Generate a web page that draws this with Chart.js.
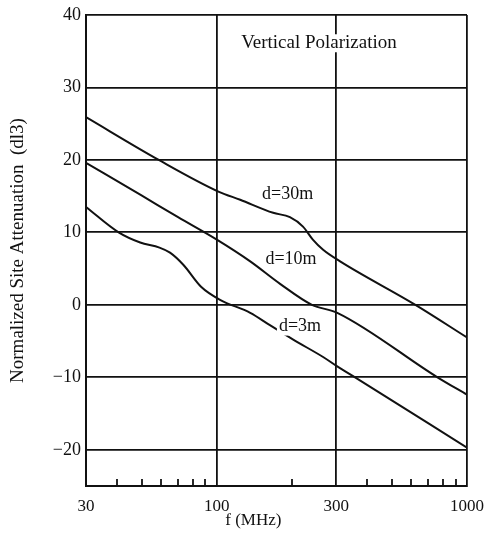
<!DOCTYPE html>
<html>
<head>
<meta charset="utf-8">
<script src="https://cdn.jsdelivr.net/npm/chart.js@4/dist/chart.umd.min.js"></script>
<style>
  html, body { margin: 0; padding: 0; background: #fff; }
  #wrap { width: 484px; height: 538px; }
</style>
</head>
<body>
<div id="wrap"><canvas id="siteChart"></canvas></div>
<script>
// ---- data ----
const d30Freq = [30, 58.6, 102, 124, 168, 196, 221, 242, 266, 311, 622, 1000];
const d30Att  = [25.9, 20, 15.6, 14.5, 12.7, 12.1, 10.8, 9.0, 7.6, 6.0, 0, -4.5];

const d10Freq = [30, 50, 70, 100, 136, 179, 240, 303, 762, 1000];
const d10Att  = [19.6, 15.1, 12.1, 9.0, 6.0, 2.9, 0, -1.1, -10, -12.4];

const d3Freq = [30, 40.5, 49.4, 59, 65, 73.6, 86.5, 103, 136, 163, 202, 266, 303, 357, 1000];
const d3Att  = [13.5, 10, 8.6, 7.9, 7.2, 5.5, 2.5, 0.7, -1.1, -2.8, -4.8, -7.2, -8.5, -10, -19.7];

const xTickVals   = [30, 100, 300, 1000];
const xTickLabels = ['30', '100', '300', '1000'];
const xMinorVals  = [40, 50, 60, 70, 80, 90, 200, 400, 500, 600, 700, 800, 900];
const yTickVals   = [-20, -10, 0, 10, 20, 30, 40];
const yTickLabels = ['\u221220', '\u221210', '0', '10', '20', '30', '40'];

// curve labels, anchored in data units
const curveLabels = [
  { text: 'd=30m', f: 192, a: 15.3 },
  { text: 'd=10m', f: 198, a: 6.3 },
  { text: 'd=3m',  f: 215, a: -3.0 },
  { text: 'Vertical Polarization', f: 256, a: 36.1 }
];

const serif = "'Liberation Serif', 'DejaVu Serif', serif";
const ink = '#111';

const toPoints = (fs, as) => fs.map((f, i) => ({ x: f, y: as[i] }));

const curve = (label, fs, as) => ({
  label,
  data: toPoints(fs, as),
  borderColor: ink,
  borderWidth: 2,
  pointRadius: 0,
  fill: false,
  cubicInterpolationMode: 'monotone'
});

// minor ticks on the bottom edge, curve labels and x title
const decorations = {
  id: 'decorations',
  afterDatasetsDraw(chart) {
    const { ctx, chartArea, scales: { x, y } } = chart;
    ctx.save();
    ctx.strokeStyle = ink;
    ctx.lineWidth = 1.8;
    xMinorVals.forEach(v => {
      const px = Math.round(x.getPixelForValue(v));
      ctx.beginPath();
      ctx.moveTo(px, chartArea.bottom);
      ctx.lineTo(px, chartArea.bottom - 7);
      ctx.stroke();
    });

    ctx.textAlign = 'center';
    ctx.textBaseline = 'middle';
    curveLabels.forEach(l => {
      ctx.font = (l.text.length > 8 ? '19px ' : '18px ') + serif;
      const px = x.getPixelForValue(l.f);
      const py = y.getPixelForValue(l.a);
      const w = ctx.measureText(l.text).width;
      ctx.fillStyle = '#fff';
      ctx.fillRect(px - w / 2 - 2, py - 9, w + 4, 18);
      ctx.fillStyle = ink;
      ctx.fillText(l.text, px, py);
    });

    ctx.font = '17px ' + serif;
    ctx.fillText('f (MHz)', x.getPixelForValue(140), chartArea.bottom + 35);
    ctx.restore();
  }
};

new Chart(document.getElementById('siteChart').getContext('2d'), {
  type: 'line',
  data: {
    datasets: [
      curve('d=30m', d30Freq, d30Att),
      curve('d=10m', d10Freq, d10Att),
      curve('d=3m', d3Freq, d3Att)
    ]
  },
  plugins: [decorations],
  options: {
    responsive: true,
    maintainAspectRatio: false,
    animation: false,
    layout: { padding: { top: 15, right: 17, left: 0, bottom: 0 } },
    plugins: {
      legend: { display: false },
      tooltip: { enabled: false }
    },
    scales: {
      x: {
        type: 'logarithmic',
        min: 30,
        max: 1000,
        afterBuildTicks: s => { s.ticks = xTickVals.map(v => ({ value: v })); },
        afterFit: s => { s.height = 52; s.paddingLeft = 0; s.paddingRight = 0; },
        grid: { color: ink, lineWidth: 1.8, drawTicks: false },
        border: { display: true, color: ink, width: 2 },
        ticks: {
          autoSkip: false,
          maxRotation: 0,
          padding: 10,
          color: ink,
          font: { family: serif, size: 17 },
          callback: v => xTickLabels[xTickVals.indexOf(v)] ?? ''
        }
      },
      y: {
        min: -25,
        max: 40,
        afterBuildTicks: s => { s.ticks = yTickVals.map(v => ({ value: v })); },
        afterFit: s => { s.width = 86; s.paddingTop = 0; s.paddingBottom = 0; },
        grid: { color: ink, lineWidth: 1.8, drawTicks: false },
        border: { display: true, color: ink, width: 2 },
        ticks: {
          padding: 5,
          color: ink,
          font: { family: serif, size: 18 },
          callback: v => yTickLabels[yTickVals.indexOf(v)] ?? ''
        },
        title: {
          display: true,
          text: 'Normalized Site Attenuation  (dl3)',
          color: ink,
          font: { family: serif, size: 19 },
          padding: { top: 7, bottom: 0 }
        }
      }
    }
  }
});
</script>
</body>
</html>
